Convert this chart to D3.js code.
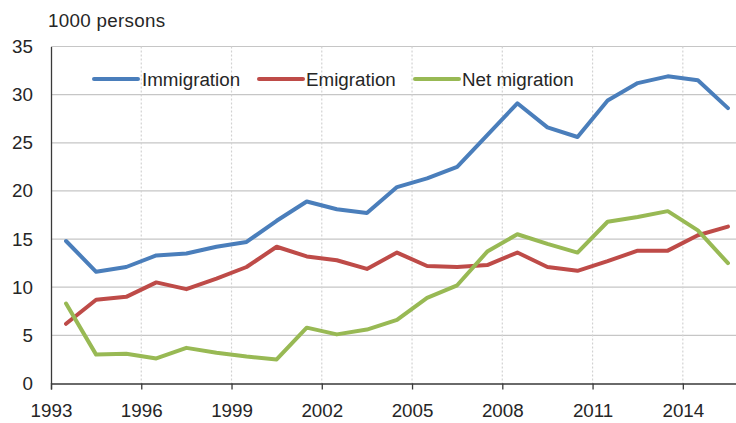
<!DOCTYPE html>
<html>
<head>
<meta charset="utf-8">
<script src="https://cdn.jsdelivr.net/npm/d3@7"></script>
<style>
  html, body { margin: 0; padding: 0; background: #fff; }
  svg { display: block; font-family: "Liberation Sans", Arial, sans-serif; }
</style>
</head>
<body>
<svg id="chart" width="736" height="423"></svg>
<script>
const years = [1993,1994,1995,1996,1997,1998,1999,2000,2001,2002,2003,2004,2005,2006,2007,2008,2009,2010,2011,2012,2013,2014,2015];
const immigration = [14.8,11.6,12.1,13.3,13.5,14.2,14.7,16.9,18.9,18.1,17.7,20.4,21.3,22.5,25.8,29.1,26.6,25.6,29.4,31.2,31.9,31.5,28.6];
const emigration = [6.2,8.7,9.0,10.5,9.8,10.9,12.1,14.2,13.2,12.8,11.9,13.6,12.2,12.1,12.3,13.6,12.1,11.7,12.7,13.8,13.8,15.4,16.3];
const netMigration = [8.3,3.0,3.1,2.6,3.7,3.2,2.8,2.5,5.8,5.1,5.6,6.6,8.9,10.2,13.7,15.5,14.5,13.6,16.8,17.3,17.9,15.9,12.5];
const xTicks = [1993,1996,1999,2002,2005,2008,2011,2014];
const yTicks = [0,5,10,15,20,25,30,35];
const unitLabel = "1000 persons";
const seriesNames = ["Immigration","Emigration","Net migration"];
const colors = ["#4a7ebb","#be4b48","#98b954"];

const series = [immigration, emigration, netMigration];
const svg = d3.select("#chart");
const FS = 18.8;

const x = d3.scaleLinear().domain([1993, 2016]).range([51, 743]);
const y = d3.scaleLinear().domain([0, 35]).range([383.5, 46.5]);

// horizontal gridlines
svg.append("g").selectAll("line").data(yTicks.filter(d => d > 0)).join("line")
  .attr("x1", 51).attr("x2", 736)
  .attr("y1", d => y(d)).attr("y2", d => y(d))
  .attr("stroke", "#c6c6c6").attr("stroke-width", 1.2);

// vertical gridlines
svg.append("g").selectAll("line").data(xTicks.filter(d => d > 1993)).join("line")
  .attr("x1", d => x(d)).attr("x2", d => x(d))
  .attr("y1", y(35)).attr("y2", y(0))
  .attr("stroke", "#d2d2d2").attr("stroke-width", 1.2)
  .attr("stroke-dasharray", "2,2");

// x axis
const xAxis = d3.axisBottom(x).tickValues(xTicks).tickFormat(d3.format("d"))
  .tickSize(6).tickPadding(14);
const gx = svg.append("g").attr("transform", `translate(0,${y(0)})`).call(xAxis);
gx.select(".domain").attr("stroke", "#3a3a3a").attr("stroke-width", 1.3);
gx.selectAll(".tick line").attr("stroke", "#3a3a3a").attr("stroke-width", 1.3);
gx.selectAll("text").attr("font-size", FS).attr("fill", "#262626")
  .attr("font-family", "Liberation Sans, Arial, sans-serif");

// y axis
const yAxis = d3.axisLeft(y).tickValues(yTicks).tickSize(0).tickPadding(18);
const gy = svg.append("g").attr("transform", `translate(51,0)`).call(yAxis);
gy.select(".domain").attr("stroke", "#3a3a3a").attr("stroke-width", 1.3);
gy.selectAll("text").attr("font-size", FS).attr("fill", "#262626")
  .attr("font-family", "Liberation Sans, Arial, sans-serif");

// unit label
svg.append("text").attr("x", 48).attr("y", 27).attr("font-size", FS)
  .attr("letter-spacing", 0.3)
  .attr("fill", "#262626").text(unitLabel);

// lines
const line = d3.line().x((d, i) => x(years[i] + 0.5)).y(d => y(d));
svg.append("g").selectAll("path").data(series).join("path")
  .attr("d", d => line(d))
  .attr("fill", "none")
  .attr("stroke", (d, i) => colors[i])
  .attr("stroke-width", 4)
  .attr("stroke-linejoin", "round")
  .attr("stroke-linecap", "round");

// legend
const legendPos = [{lx: 94, tx: 142}, {lx: 259, tx: 306}, {lx: 415, tx: 462}];
const lg = svg.append("g");
seriesNames.forEach((name, i) => {
  lg.append("line").attr("x1", legendPos[i].lx).attr("x2", legendPos[i].lx + 44)
    .attr("y1", 79).attr("y2", 79)
    .attr("stroke", colors[i]).attr("stroke-width", 4).attr("stroke-linecap", "round");
  lg.append("text").attr("x", legendPos[i].tx).attr("y", 86)
    .attr("font-size", FS).attr("fill", "#262626").text(name);
});
</script>
</body>
</html>
